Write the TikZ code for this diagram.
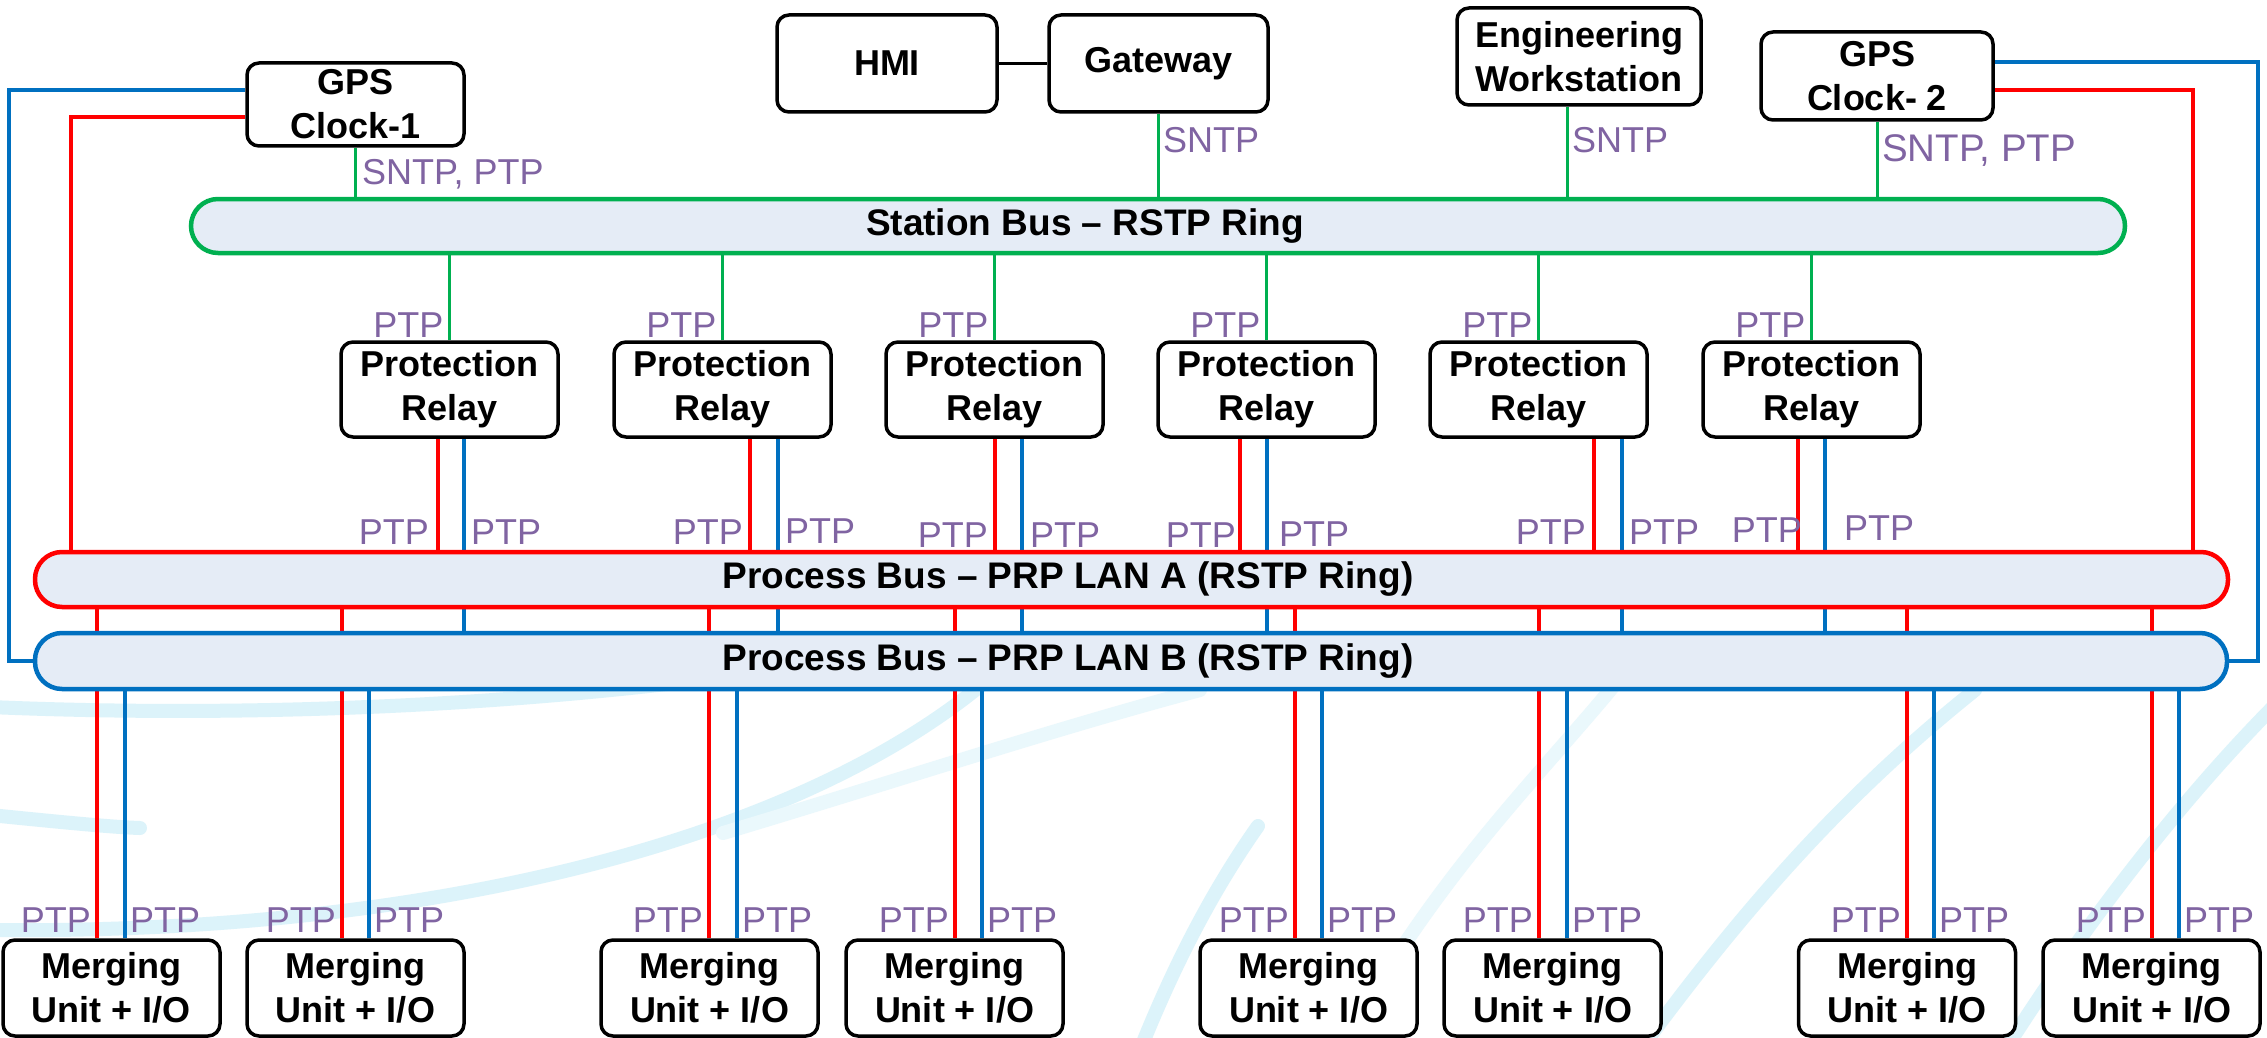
\documentclass[tikz,border=0pt]{standalone}
\usepackage{fontspec}
\setmainfont{Liberation Sans}
\definecolor{grncol}{HTML}{00B050}
\definecolor{redcol}{HTML}{FF0000}
\definecolor{blucol}{HTML}{0070C0}
\definecolor{ptpcol}{HTML}{8064A2}
\definecolor{busfill}{HTML}{E5ECF6}
\definecolor{swcol}{HTML}{DCF3FA}
\pgfdeclarelayer{paper}
\pgfdeclarelayer{links}
\pgfsetlayers{paper,links,main}
\tikzset{
  devbox/.style={draw=black, line width=3.5pt, rounded corners=12pt, fill=white,
    align=center, inner sep=0pt, text=black,
    font=\bfseries\fontsize{36}{44}\selectfont},
  busbar/.style={line width=4.5pt, rounded corners=27pt, fill=busfill, inner sep=0pt},
  buslabel/.style={inner sep=0pt, font=\bfseries\fontsize{37}{40}\selectfont},
  proto/.style={inner sep=0pt, text=ptpcol, font=\fontsize{36}{40}\selectfont},
  bigproto/.style={proto, font=\fontsize{38.5}{42}\selectfont},
  grnln/.style={draw=grncol, line width=3pt},
  redln/.style={draw=redcol, line width=3.4pt},
  bluln/.style={draw=blucol, line width=3.4pt},
  swoosh/.style={draw=swcol, line width=14pt, line cap=round},
  faintsw/.style={draw=swcol!60, line width=14pt, line cap=round}
}
\begin{document}
\begin{tikzpicture}[x=1pt,y=-1pt]
\useasboundingbox (0,0) rectangle (2267,1038);

% paper and background swooshes
\begin{pgfonlayer}{paper}
  \fill[white] (0,0) rectangle (2267,1038);
  \draw[swoosh] (-10,707) .. controls (250,718) and (500,705) .. (700,680);
  \draw[swoosh] (-10,815) .. controls (60,822) and (110,827) .. (140,828);
  \draw[swoosh] (-10,930) .. controls (450,935) and (850,830) .. (1030,640);
  \draw[faintsw] (723,833) .. controls (900,780) and (1050,730) .. (1200,690);
  \draw[swoosh] (1140,1050) .. controls (1180,950) and (1220,880) .. (1258,826);
  \draw[faintsw] (1340,1050) .. controls (1450,850) and (1560,760) .. (1650,640);
  \draw[swoosh] (1640,1050) .. controls (1750,900) and (1850,790) .. (1975,690);
  \draw[swoosh] (2005,1050) .. controls (2100,900) and (2200,780) .. (2280,700);
\end{pgfonlayer}

% station level devices
\node[devbox, minimum width=217pt, minimum height=83pt] (gps1) at (355.5,104.5) {GPS\\Clock-1};
\node[devbox, minimum width=220pt, minimum height=97pt] (hmi) at (887,63.5) {HMI};
\node[devbox, minimum width=219pt, minimum height=97pt] (gw) at (1158.5,63.5) {Gateway};
\node[devbox, minimum width=244pt, minimum height=97pt] (ew) at (1579,56.5) {Engineering\\Workstation};
\node[devbox, minimum width=232pt, minimum height=88pt] (gps2) at (1877,76) {GPS\\Clock- 2};

% buses
\node[busbar, draw=grncol, minimum width=1934pt, minimum height=54pt] (sbus) at (1158,226) {};
\node[buslabel] (sbusT) at (1085,226) {Station Bus -- RSTP Ring};
\node[busbar, draw=redcol, minimum width=2193pt, minimum height=55pt] (lanA) at (1131.5,579.5) {};
\node[buslabel] (lanAT) at (1068,579.5) {Process Bus -- PRP LAN A (RSTP Ring)};
\node[busbar, draw=blucol, minimum width=2192pt, minimum height=56pt] (lanB) at (1131,661) {};
\node[buslabel] (lanBT) at (1068,661) {Process Bus -- PRP LAN B (RSTP Ring)};

% station level links
\begin{pgfonlayer}{links}
  \draw[line width=2.8pt] (hmi.east) -- (gw.west);
  \draw[grnln] (gps1.south) -- (gps1.south |- sbus.north);
  \draw[grnln] (gw.south) -- (gw.south |- sbus.north);
  \draw[grnln] (1567,0 |- ew.south) -- (1567,0 |- sbus.north);
  \draw[grnln] (gps2.south) -- (gps2.south |- sbus.north);
  \draw[bluln] (gps1.west |- 0,90) -- (9,90) -- (9,661) -- (lanB.west);
  \draw[redln] (gps1.west |- 0,117) -- (71,117) -- (71,0 |- lanA.north);
  \draw[bluln] (gps2.east |- 0,62) -- (2258,62) -- (2258,661) -- (lanB.east);
  \draw[redln] (gps2.east |- 0,90) -- (2193,90) -- (2193,0 |- lanA.north);
\end{pgfonlayer}

\node[proto, anchor=base west] (l1) at (362,184) {SNTP, PTP};
\node[proto, anchor=base west] (l2) at (1163,153) {SNTP};
\node[proto, anchor=base west] (l3) at (1572,153) {SNTP};
\node[bigproto, anchor=base west] (l4) at (1882,161) {SNTP, PTP};

% protection relays
\foreach \n/\x/\rx/\bx/\ly/\lx/\ry/\qx in
  {1/449.5/438/464/544/429/544/471,
   2/722.5/750/778/544/743/543/785,
   3/994.5/995/1022/547/988/547/1030,
   4/1266.5/1240/1267/547/1236/546/1279,
   5/1538.5/1594/1622/544/1586/544/1629,
   6/1811.5/1798/1825/542/1802/540/1844} {
  \node[devbox, minimum width=217pt, minimum height=95pt] (r\n) at (\x,389.5) {Protection\\Relay};
  \node[proto, anchor=base east] (rt\n) at ({\x-6},337) {PTP};
  \node[proto, anchor=base east] (rl\n) at (\lx,\ly) {PTP};
  \node[proto, anchor=base west] (rr\n) at (\qx,\ry) {PTP};
  \begin{pgfonlayer}{links}
    \draw[grnln] (r\n.north) -- (r\n.north |- sbus.south);
    \draw[redln] (\rx,0 |- r\n.south) -- (\rx,0 |- lanA.north);
    \draw[bluln] (\bx,0 |- r\n.south) -- (\bx,0 |- lanB.north);
  \end{pgfonlayer}
}

% merging units
\foreach \n/\x/\rx/\bx in
  {1/111.5/97/125, 2/355.5/342/369, 3/709.5/709/737, 4/954.5/955/982,
   5/1308.5/1295/1322, 6/1552.5/1539/1567, 7/1907/1907/1934, 8/2151.5/2152/2179} {
  \node[devbox, minimum width=217pt, minimum height=96pt] (mu\n) at (\x,988) {Merging\\Unit + I/O};
  \node[proto, anchor=base east] (ml\n) at ({\rx-6},932) {PTP};
  \node[proto, anchor=base west] (mr\n) at ({\bx+5},932) {PTP};
  \begin{pgfonlayer}{links}
    \draw[redln] (\rx,0 |- mu\n.north) -- (\rx,0 |- lanA.south);
    \draw[bluln] (\bx,0 |- mu\n.north) -- (\bx,0 |- lanB.south);
  \end{pgfonlayer}
}
\end{tikzpicture}
\end{document}
